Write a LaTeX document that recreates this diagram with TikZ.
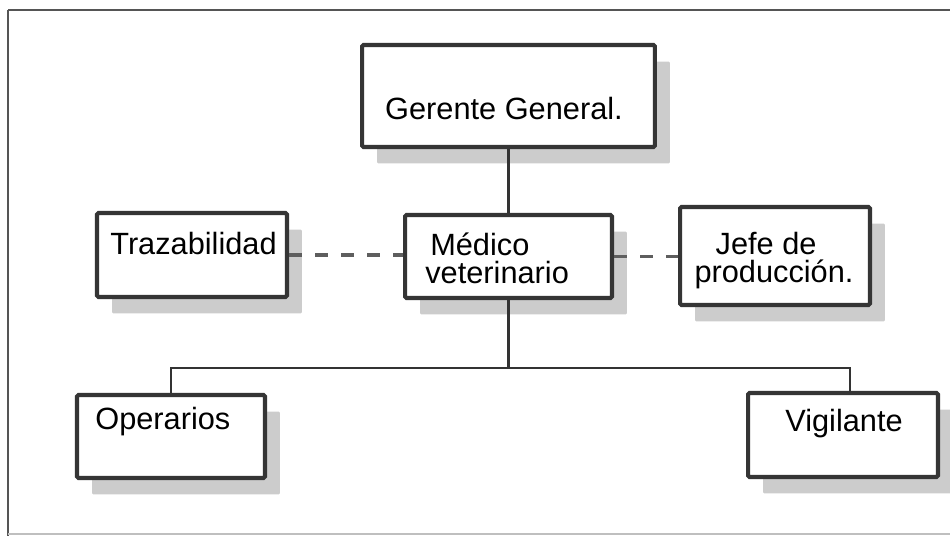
\documentclass[tikz,border=0pt]{standalone}
\usepackage{fontspec}
\setmainfont{Liberation Sans}
\usetikzlibrary{shadows}
\definecolor{boxline}{HTML}{353535}
\definecolor{conn}{HTML}{333333}
\definecolor{dashc}{HTML}{5E5E5E}
\definecolor{shadowc}{HTML}{CCCCCC}
\definecolor{framec}{HTML}{555555}
\begin{document}
\begin{tikzpicture}[x=0.02cm,y=-0.02cm,
  orgbox/.style={draw=boxline, line width=2.3pt, fill=white, rounded corners=0.8pt,
    inner sep=0pt, drop shadow={shadow xshift=0.3cm, shadow yshift=-0.33cm, fill=shadowc, opacity=1}},
  lbl/.style={inner sep=0pt, anchor=base west, font=\fontsize{17.5}{21}\selectfont},
  clbl/.style={inner sep=0pt, anchor=base, font=\fontsize{17.5}{21}\selectfont},
  twolbl/.style={inner sep=0pt, font=\fontsize{17.5}{16}\selectfont},
  conline/.style={draw=conn, line width=1.6pt},
  dashline/.style={draw=dashc, line width=2pt, dash pattern=on 7.4pt off 7.4pt}]
\useasboundingbox (0,0) rectangle (950,536);
\fill[white] (0,0) rectangle (950,536);
% outer frame
\draw[draw=framec, line width=1.6pt] (8,10) -- (980,10);
\draw[draw=framec, line width=1.6pt] (8,10) -- (8,536);
\draw[draw=black!25, line width=0.8pt] (8,534) -- (980,534);
% boxes
\node[orgbox, minimum width=5.86cm, minimum height=2.04cm] (ger) at (508.5,96) {};
\node[orgbox, minimum width=3.8cm, minimum height=1.68cm] (tra) at (192,255) {};
\node[orgbox, minimum width=4.14cm, minimum height=1.66cm] (med) at (508.5,256.5) {};
\node[orgbox, minimum width=3.8cm, minimum height=1.96cm] (jef) at (775,256) {};
\node[orgbox, minimum width=3.76cm, minimum height=1.66cm] (ope) at (171,436.5) {};
\node[orgbox, minimum width=3.8cm, minimum height=1.68cm] (vig) at (843,435) {};
% labels
\node[clbl] (tger) at (504,120) {Gerente General.};
\node[lbl] (ttra) at (110,255) {Trazabilidad};
\node[twolbl, align=left, anchor=base west] (tmed) at (425,284) {\hspace{2.8pt}Médico\\veterinario};
\node[twolbl, align=center, anchor=base] (tjef) at (774,283) {\hspace{-9pt}Jefe de\\producción.};
\node[lbl] (tope) at (95,430) {Operarios};
\node[lbl] (tvig) at (785,432) {Vigilante};
% connectors
\coordinate (bus) at (508.5,368);
\coordinate (vigtop) at (850,393);
\draw[conline] (ger.south) -- (med.north);
\draw[conline] (med.south) -- (bus);
\draw[conline] (bus) -| (ope.north);
\draw[conline] (bus) -| (vigtop);
\draw[dashline] (tra.east) -- (tra.east -| med.west);
\draw[dashline] (med.east) -- (med.east -| jef.west);
\end{tikzpicture}
\end{document}
